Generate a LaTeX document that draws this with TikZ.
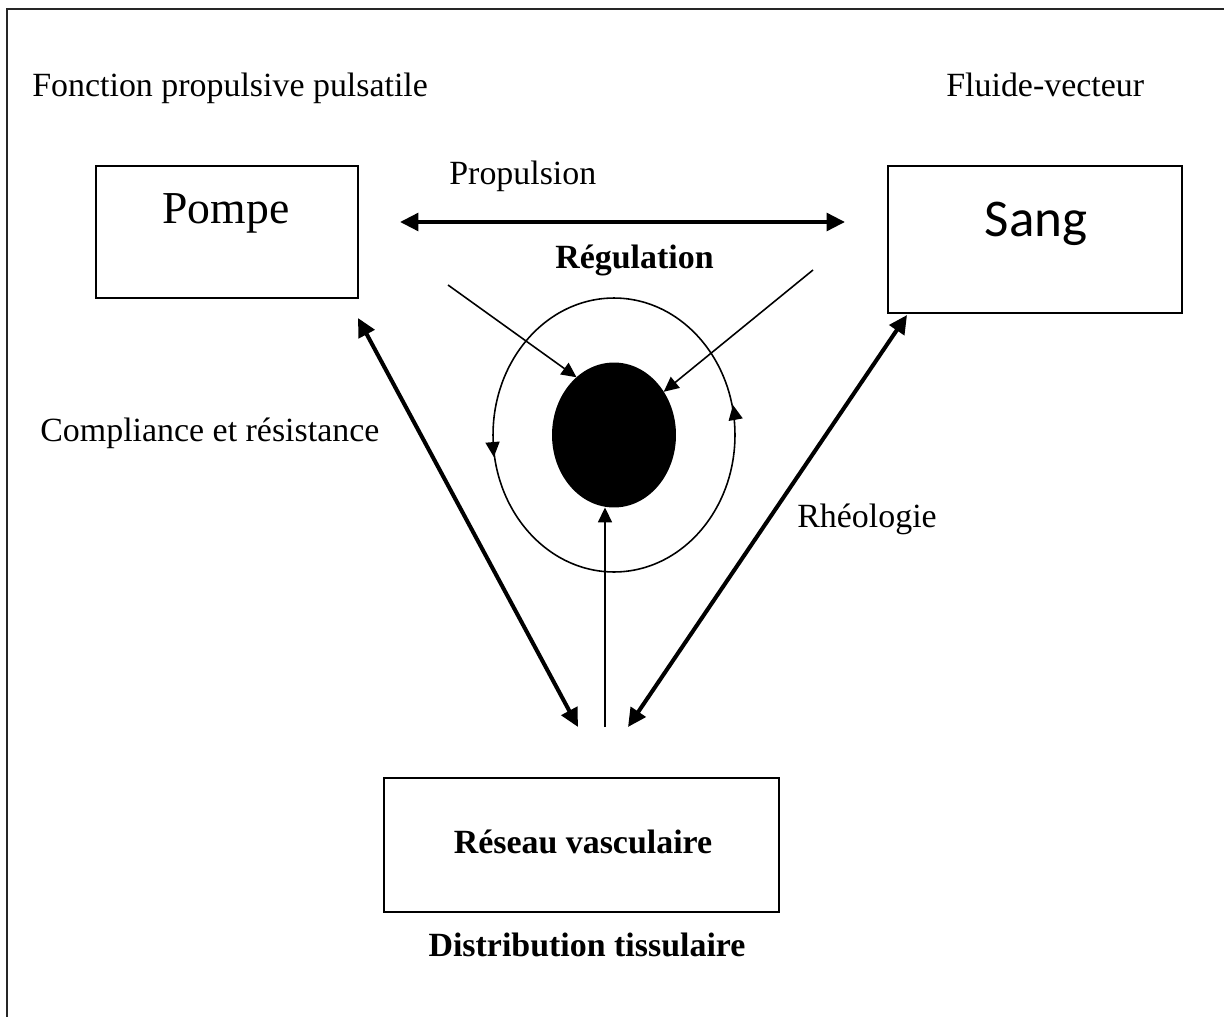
\documentclass[tikz,border=0pt]{standalone}
\usepackage{fontspec}
\setmainfont{Liberation Serif}
\newfontfamily\sangfont{Carlito}
\usepackage{tikz}
\usetikzlibrary{calc}
\usetikzlibrary{arrows.meta}
\usetikzlibrary{shapes.geometric}

\begin{document}
\begin{tikzpicture}[x=0.02cm,y=-0.02cm]
        \tikzset{box/.style={draw=black, line width=0.9pt, rectangle, inner sep=0pt, outer sep=0pt}}
        \tikzset{txt/.style={font=\fontsize{19.3}{23}\selectfont, inner sep=0pt}}
        \tikzset{bigarrow/.style={{Triangle[length=10.5pt,width=10pt]}-{Triangle[length=10.5pt,width=10pt]}, line width=2.3pt}}
        \tikzset{thinarrow/.style={-{Triangle[length=8.5pt,width=8pt]}, line width=0.9pt}}
        
        \useasboundingbox (0,0) rectangle (1224,1017);
        \clip (0,0) rectangle (1224,1017);
        \draw[line width=1.1pt, black!85] (7,9) rectangle (1260,1060);
        
        %boxes
        \node[box, minimum width=5.24cm, minimum height=2.64cm] (pompe) at (227,232) {};
        \node[box, minimum width=5.88cm, minimum height=2.94cm] (sang) at (1035,239.5) {};
        \node[box, minimum width=7.9cm, minimum height=2.68cm] (reseau) at (581.5,845) {};
        
        %centre
        \node[ellipse, fill=black, minimum width=2.48cm, minimum height=2.9cm, inner sep=0pt, outer sep=0pt] (core) at (614,435) {};
        \node[ellipse, draw=black, line width=0.9pt, minimum width=4.84cm, minimum height=5.48cm, inner sep=0pt] (ring) at (614,435) {};
        
        \coordinate (prop_l) at ($(pompe.east)+(42,-10)$);
        \coordinate (prop_r) at ($(sang.west)+(-43,-17.5)$);
        \coordinate (comp_top) at ($(pompe.south east)+(0,20)$);
        \coordinate (comp_bot) at ($(reseau.north)+(-3.5,-51)$);
        \coordinate (rheo_top) at ($(sang.south west)+(19,2)$);
        \coordinate (rheo_bot) at ($(reseau.north)+(46.5,-51)$);
        \coordinate (reg_l) at (448,285);
        \coordinate (reg_r) at (813,270);
        \coordinate (reg_b) at ($(reseau.north)+(23.5,-51)$);
        
        %thick arrows
        \draw [bigarrow] (prop_l) -- (prop_r);
        \draw [bigarrow] (comp_top) -- (comp_bot);
        \draw [bigarrow] (rheo_top) -- (rheo_bot);
        
        %Regulation
        \draw [thinarrow] (reg_l) -- (core.123);
        \draw [thinarrow] (reg_r) -- (core.41);
        \draw [thinarrow] (reg_b) -- (reg_b |- core.south);
        \draw [thinarrow] ($(ring.west)+(0.4,8)$) -- ($(ring.west)+(1.6,22)$);
        \draw [thinarrow] ($(ring.east)+(-0.6,-18)$) -- ($(ring.east)+(-2.8,-30)$);
        
        %box text
        \node[anchor=base, inner sep=0pt, font=\fontsize{26}{30}\selectfont] (pompe_txt) at ($(pompe.north)+(-1,57)$) {Pompe};
        \node[anchor=base, inner sep=0pt, font=\sangfont\fontsize{30.2}{34}\selectfont] (sang_txt) at ($(sang.north)+(1,70)$) {Sang};
        \node[anchor=base, txt, font=\fontsize{19.3}{23}\selectfont\bfseries] (reseau_txt) at ($(reseau.center)+(1.5,8)$) {Réseau vasculaire};
        \node[anchor=base, txt, font=\fontsize{19.3}{23}\selectfont\bfseries] (distrib) at ($(reseau.south)+(5.5,45)$) {Distribution tissulaire};
        
        %labels
        \node[anchor=base west, txt] (fonction) at (32,97) {Fonction propulsive pulsatile};
        \node[anchor=base west, txt] (fluide) at (946,97) {Fluide-vecteur};
        \node[anchor=base west, txt] (propulsion) at (449,184) {Propulsion};
        \node[anchor=base west, txt, font=\fontsize{19.3}{23}\selectfont\bfseries] (regulation) at (555,268) {Régulation};
        \node[anchor=base west, txt] (compliance) at (40,441) {Compliance et résistance};
        \node[anchor=base west, txt] (rheologie) at (797,527) {Rhéologie};
        \end{tikzpicture}
\end{document}
